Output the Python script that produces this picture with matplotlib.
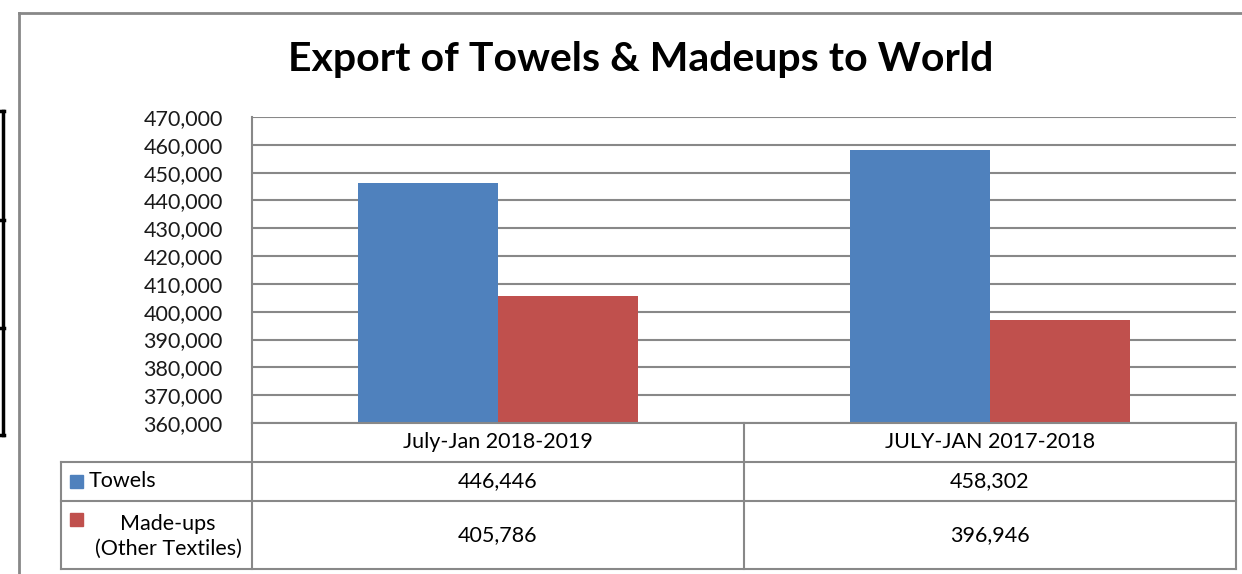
import matplotlib.pyplot as plt
from matplotlib.lines import Line2D
from matplotlib.patches import Rectangle

plt.rcParams['font.family'] = ['Lato', 'DejaVu Sans']

title = "Export of Towels & Madeups to World"
periods = ["July-Jan 2018-2019", "JULY-JAN 2017-2018"]
series = ["Towels", "Made-ups\n(Other Textiles)"]
towels = [446446, 458302]
madeups = [405786, 396946]
yticks = list(range(360000, 470001, 10000))

colors = ["#4F81BD", "#C0504D"]
grid = "#888888"

W, H = 1242, 574
fig = plt.figure(figsize=(W / 100, H / 100), dpi=100)


def fx(x):
    return x / W


def fy(y):
    return 1 - y / H


def hline(x0, x1, y, c=grid, lw=1.5):
    fig.add_artist(Line2D([fx(x0), fx(x1)], [fy(y), fy(y)], color=c, lw=lw))


def vline(x, y0, y1, c=grid, lw=1.5):
    fig.add_artist(Line2D([fx(x), fx(x)], [fy(y0), fy(y1)], color=c, lw=lw))


# outer chart frame (cut off at right and bottom)
hline(19, W, 13, lw=2)
vline(19, 13, H, lw=2)

# stray black frame on far left
vline(2.5, 111, 435, c="black", lw=2.5)
for yy in [111, 220, 328, 435]:
    hline(0, 4, yy, c="black", lw=2.5)

# plot area
L, R, T, B = 252, 1236, 117, 423
ax = fig.add_axes([fx(L), fy(B), fx(R - L), (B - T) / H])
bw = 0.284
xs = [0, 1]
ax.bar([x - bw / 2 for x in xs], towels, width=bw, color=colors[0], zorder=3)
ax.bar([x + bw / 2 for x in xs], madeups, width=bw, color=colors[1], zorder=3)
ax.set_xlim(-0.5, 1.5)
ax.set_ylim(yticks[0], yticks[-1])
ax.set_yticks(yticks)
ax.set_yticklabels([f"{v:,}" for v in yticks], fontsize=15.5, color="#1a1a1a")
ax.tick_params(axis="y", length=0, pad=21)
ax.set_xticks([])
ax.yaxis.grid(True, color=grid, lw=1.5, zorder=0)
for s in ["top", "right", "bottom"]:
    ax.spines[s].set_visible(False)
ax.spines["left"].set_color(grid)
ax.spines["left"].set_linewidth(1.5)
ax.spines["left"].set_zorder(4)

fig.text(fx(641), fy(60), title, ha="center", va="center",
         fontsize=29.5, fontweight="bold")

# data table under the chart
rows = [423, 462, 501, 569]
mid = (L + R) / 2
hline(L, R, rows[0])
for yy in rows[1:]:
    hline(61, R, yy)
vline(L, rows[0], rows[-1])
vline(mid, rows[0], rows[-1])
vline(R, rows[0], rows[-1])
vline(61, rows[1], rows[-1])

centers = [(L + mid) / 2, (mid + R) / 2]
for c, p in zip(centers, periods):
    fig.text(fx(c), fy((rows[0] + rows[1]) / 2), p, ha="center", va="center", fontsize=15.5)
for i, vals in enumerate([towels, madeups]):
    yc = (rows[i + 1] + rows[i + 2]) / 2
    for c, v in zip(centers, vals):
        fig.text(fx(c), fy(yc), f"{v:,}", ha="center", va="center", fontsize=15.5)

# legend keys in the table
fig.add_artist(Rectangle((fx(70), fy(488)), 13 / W, 13 / H, color=colors[0]))
fig.text(fx(89), fy(481), series[0], ha="left", va="center", fontsize=15.5)
fig.add_artist(Rectangle((fx(70), fy(526)), 13 / W, 13 / H, color=colors[1]))
fig.text(fx(168), fy(536), series[1], ha="center", va="center", fontsize=15.5,
         linespacing=1.3)

fig.savefig("out.png", dpi=100)
